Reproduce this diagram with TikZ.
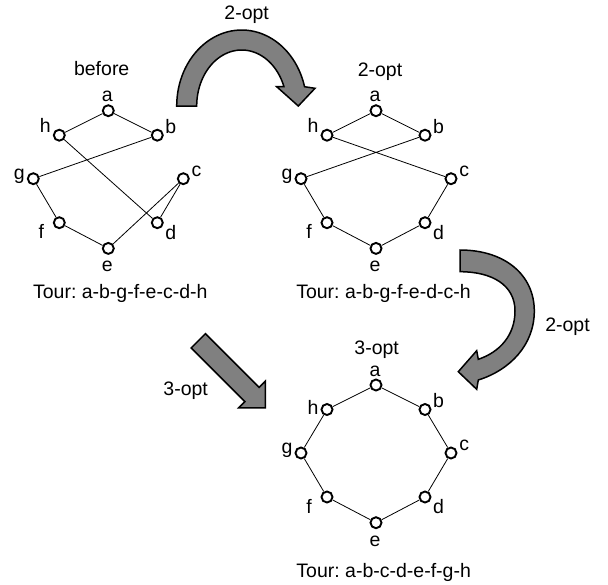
\documentclass[tikz,border=0pt]{standalone}
\usepackage{fontspec}
\setmainfont{Liberation Sans}
\usetikzlibrary{calc}
\frenchspacing

% one tour drawn on eight points laid out as an octagon; #1 = name prefix,
% (#2,#3) = position of vertex a, #4 = vertical offset of the label h
\newcommand\tournodes[4]{%
  \begin{scope}[shift={(#2,#3)}]
    \node[vtx] (#1a) at (0,0) {};
    \node[vtx] (#1h) at (-49,24.5) {};
    \node[vtx] (#1b) at (49,24.5) {};
    \node[vtx] (#1g) at (-75,68) {};
    \node[vtx] (#1c) at (75,68) {};
    \node[vtx] (#1f) at (-49,112) {};
    \node[vtx] (#1d) at (49,112) {};
    \node[vtx] (#1e) at (0,137.7) {};
    \node[vlbl] (#1la) at (-1,-9) {a};
    \node[vlbl] (#1lh) at (-63,{24.5+#4}) {h};
    \node[vlbl] (#1lb) at (62.5,22.5) {b};
    \node[vlbl] (#1lg) at (-89,68.5) {g};
    \node[vlbl] (#1lc) at (88.2,65.5) {c};
    \node[vlbl] (#1lf) at (-67,128) {f};
    \node[vlbl] (#1ld) at (62.5,128.3) {d};
    \node[vlbl] (#1le) at (-1,161.1) {e};
  \end{scope}}

\begin{document}
\begin{tikzpicture}[x=1pt,y=-1pt,
  txt/.style={font=\fontsize{19.5}{23}\selectfont, inner sep=0pt, anchor=base},
  vlbl/.style={txt},
  vtx/.style={circle, draw, fill=white, line width=1.9pt, minimum size=11pt, inner sep=0pt},
  tourline/.style={line width=0.8pt},
  bigarrow/.style={draw=black, fill=black!50, line width=1.5pt, line join=miter}]

\useasboundingbox[fill=white] (0,0) rectangle (608,584);

% curved 2-opt arrow across the top
\draw[bigarrow] (176.7,106)
  -- plot[domain=180:345.3, samples=50, variable=\t] ({241.7+65*cos(\t)},{106+76*sin(\t)})
  -- (315,88.3) -- (298.3,106) -- (276.7,86.7)
  -- plot[domain=339.8:180, samples=50, variable=\t] ({241.7+45*cos(\t)},{106+56*sin(\t)})
  -- cycle;

% curved 2-opt arrow on the right
\draw[bigarrow] (460,250)
  .. controls (505,250) and (534.3,275) .. (534.3,311)
  .. controls (534.3,345) and (510,370) .. (478.3,380)
  -- (476.7,389.3) -- (458.3,371.7) -- (476.7,350.7) -- (478.3,359.3)
  .. controls (500,352) and (515,335) .. (515,311)
  .. controls (515,285) and (492,271.7) .. (460,271.7)
  -- cycle;

% straight 3-opt arrow
\draw[bigarrow] (205.4,333.7) -- (259.1,387.4) -- (265.4,381.1) -- (265.4,407.9)
  -- (238.6,407.9) -- (244.9,401.6) -- (191.2,347.9) -- cycle;

% the three tours
\tournodes{p}{108.3}{110.7}{-2.3}
\tournodes{q}{376}{110.7}{-2.3}
\tournodes{r}{376}{385}{4.5}

% tour a-b-g-f-e-c-d-h
\draw[tourline] (pa) -- (pb) -- (pg) -- (pf) -- (pe) -- (pc) -- (pd) -- (ph) -- (pa);
% tour a-b-g-f-e-d-c-h
\draw[tourline] (qa) -- (qb) -- (qg) -- (qf) -- (qe) -- (qd) -- (qc) -- (qh) -- (qa);
% tour a-b-c-d-e-f-g-h
\draw[tourline] (ra) -- (rb) -- (rc) -- (rd) -- (re) -- (rf) -- (rg) -- (rh) -- (ra);

% titles and captions
\node[txt] (ttop) at (246.7,19.5) {2-opt};
\node[txt] (tbefore) at (101.7,75) {before};
\node[txt] (tq) at (380,76) {2-opt};
\node[txt] (tright) at (567.5,331.7) {2-opt};
\node[txt] (tleft) at (185.7,395) {3-opt};
\node[txt] (tr) at (376.7,354) {3-opt};
\node[txt] (cp) at (120.3,298.5) {Tour: a-b-g-f-e-c-d-h};
\node[txt] (cq) at (383.5,298.5) {Tour: a-b-g-f-e-d-c-h};
\node[txt] (cr) at (383.7,577) {Tour: a-b-c-d-e-f-g-h};
\end{tikzpicture}
\end{document}
